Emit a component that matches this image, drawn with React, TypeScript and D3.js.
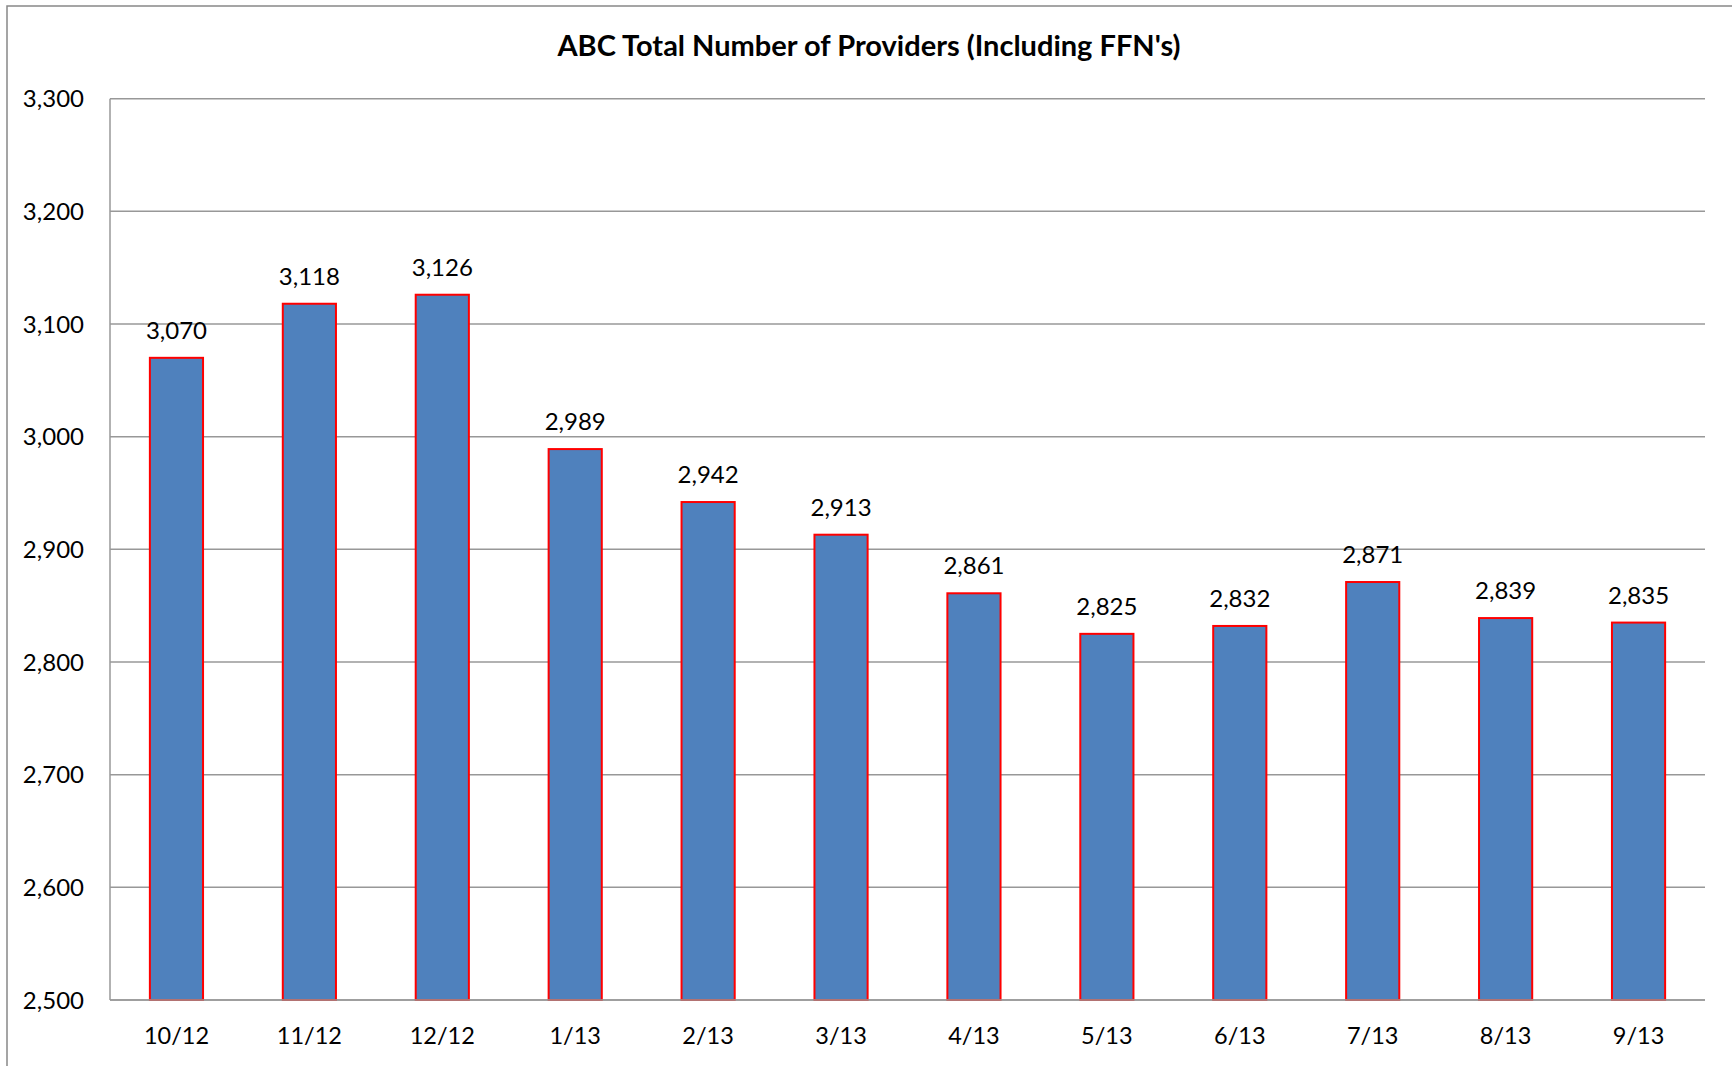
import React from "react";
import * as d3 from "d3";

const categories = ["10/12", "11/12", "12/12", "1/13", "2/13", "3/13", "4/13", "5/13", "6/13", "7/13", "8/13", "9/13"];
const values = [3070, 3118, 3126, 2989, 2942, 2913, 2861, 2825, 2832, 2871, 2839, 2835];
const yTicks = [2500, 2600, 2700, 2800, 2900, 3000, 3100, 3200, 3300];
const title = "ABC Total Number of Providers (Including FFN's)";

const W = 1732;
const H = 1066;
const plot = { left: 110, right: 1705, top: 98.7, bottom: 1000 };
const FONT = "Lato, 'Open Sans', sans-serif";

export default function App() {
  const x = d3.scaleBand<string>().domain(categories).range([plot.left, plot.right]).paddingInner(0.6).paddingOuter(0.3);
  const y = d3.scaleLinear().domain([2500, 3300]).range([plot.bottom, plot.top]);
  const fmt = d3.format(",");
  return (
    <svg width={W} height={H} style={{ position: "absolute", left: 0, top: 0, background: "#fff" }} fontFamily={FONT}>
      <rect x={7} y={6} width={W + 10} height={H + 10} fill="#fff" stroke="#888" strokeWidth={1.5} />
      <text x={869} y={56} textAnchor="middle" fontSize={29} fontWeight="bold" fill="#000">{title}</text>
      {yTicks.map((t) => (
        <g key={t}>
          <line x1={plot.left} x2={plot.right} y1={y(t)} y2={y(t)} stroke="#989898" strokeWidth={1.5} />
          <text x={84} y={y(t)} dy="0.36em" textAnchor="end" fontSize={24} fill="#000">{fmt(t)}</text>
        </g>
      ))}
      <line x1={plot.left} x2={plot.left} y1={plot.top} y2={plot.bottom} stroke="#989898" strokeWidth={1.5} />
      {categories.map((c, i) => {
        const bx = x(c)!;
        const bw = x.bandwidth();
        const top = y(values[i]);
        return (
          <g key={c}>
            <rect x={bx} y={top} width={bw} height={plot.bottom - top} fill="#4F81BD" stroke="#FF0000" strokeWidth={2} />
            <text x={bx + bw / 2} y={top - 19} textAnchor="middle" fontSize={24} fill="#000">{fmt(values[i])}</text>
            <text x={bx + bw / 2} y={1036} dy="0.36em" textAnchor="middle" fontSize={23.5} fill="#000">{c}</text>
          </g>
        );
      })}
      <line x1={plot.left} x2={plot.right} y1={plot.bottom} y2={plot.bottom} stroke="#989898" strokeWidth={1.5} />
    </svg>
  );
}
